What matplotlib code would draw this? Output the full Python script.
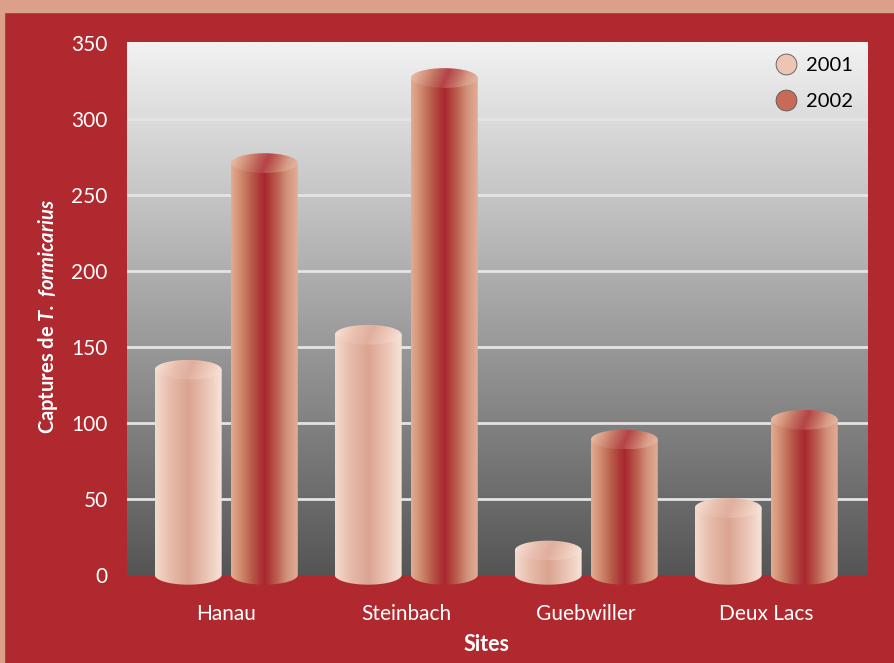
import numpy as np
import matplotlib.pyplot as plt
from matplotlib.colors import LinearSegmentedColormap
from matplotlib.patches import Polygon, Ellipse, Rectangle
from matplotlib.lines import Line2D

# Données
sites = ["Hanau", "Steinbach", "Guebwiller", "Deux Lacs"]
annees = ["2001", "2002"]
captures_2001 = [135, 158, 16, 44]
captures_2002 = [271, 327, 89, 102]
graduations = [0, 50, 100, 150, 200, 250, 300, 350]

plt.rcParams['font.family'] = ['Lato', 'DejaVu Sans']
plt.rcParams['mathtext.fontset'] = 'custom'
plt.rcParams['mathtext.bfit'] = 'Lato:italic:bold'

ROUGE = '#B0292E'
SAUMON = '#DCA089'

cmap_2001 = LinearSegmentedColormap.from_list(
    "c2001", ["#F4DACD", "#E6B9A8", "#DBA492", "#EAC2B2", "#F7E4DA"])
cmap_2002 = LinearSegmentedColormap.from_list(
    "c2002", ["#E4AC92", "#CC856A", "#B55446", "#A8262E", "#B9594B", "#D2917A", "#E2AE96"])

fig = plt.figure(figsize=(8.94, 6.63), dpi=100)
fig.patch.set_facecolor(ROUGE)
fig.patches.append(Rectangle((0, 1 - 12 / 663), 1, 12 / 663, transform=fig.transFigure,
                             color=SAUMON, zorder=0))
fig.patches.append(Rectangle((0, 0), 4 / 894, 1, transform=fig.transFigure,
                             color=SAUMON, zorder=0))

ax = fig.add_axes([127 / 894, 1 - 590 / 663, 741 / 894, 548 / 663])
ax.set_facecolor('none')
xmin, xmax = -0.55, 3.567
ymin, ymax = -10, 350.7

# fond dégradé gris
fond = np.linspace(0, 1, 256).reshape(-1, 1)
cmap_fond = LinearSegmentedColormap.from_list("fond", ["#F2F2F2", "#555555"])
ax.imshow(fond, cmap=cmap_fond, extent=[xmin, xmax, 0, ymax], aspect='auto',
          zorder=0, interpolation='bilinear')

for y in graduations[1:-1]:
    ax.axhline(y, color='#E4E4E4', lw=2, zorder=1)


def cylindre(ax, xc, w, v, cmap, ry=6.5):
    x0, x1 = xc - w / 2, xc + w / 2
    t = np.linspace(np.pi, 2 * np.pi, 80)
    bas = np.column_stack([xc + w / 2 * np.cos(t), ry * np.sin(t)])
    pts = np.vstack([[x0, v], bas, [x1, v]])
    corps = Polygon(pts, closed=True, facecolor='none', edgecolor='none')
    ax.add_patch(corps)
    grad = np.linspace(0, 1, 256).reshape(1, -1)
    im = ax.imshow(grad, cmap=cmap, extent=[x0, x1, -ry, v], aspect='auto',
                   zorder=3, interpolation='bilinear')
    im.set_clip_path(corps)

    # couvercle : dégradé un peu plus clair et incliné
    haut = Ellipse((xc, v), w, 2 * ry, facecolor='none', edgecolor='none')
    ax.add_patch(haut)
    u, vv = np.meshgrid(np.linspace(0, 1, 128), np.linspace(0, 1, 32))
    rgb = cmap(np.clip(u - 0.12 * (1 - vv) + 0.04, 0, 1))[..., :3]
    rgb = rgb * 0.85 + 0.15 * np.array([1.0, 0.92, 0.88])
    im2 = ax.imshow(rgb, extent=[x0, x1, v - ry, v + ry], aspect='auto',
                    zorder=4, interpolation='bilinear', origin='upper')
    im2.set_clip_path(haut)


largeur = 0.372
for i in range(len(sites)):
    cylindre(ax, i - 0.21, largeur, captures_2001[i], cmap_2001)
    cylindre(ax, i + 0.213, largeur, captures_2002[i], cmap_2002)

ax.set_xlim(xmin, xmax)
ax.set_ylim(ymin, ymax)

for s in ax.spines.values():
    s.set_visible(False)

ax.set_yticks(graduations)
ax.set_xticks(range(len(sites)))
ax.set_xticklabels(sites)
ax.tick_params(axis='y', length=0, pad=14, labelcolor='white', labelsize=15)
ax.tick_params(axis='x', length=0, pad=10, labelcolor='white', labelsize=15)

ax.set_ylabel(r"Captures de $\mathbfit{T.}$ $\mathbfit{formicarius}$", color='white',
              fontsize=14.5, fontweight='bold')
ax.yaxis.set_label_coords(-0.091, 0.5)
ax.set_xlabel("Sites", color='white', fontsize=15.5, fontweight='bold')
ax.xaxis.set_label_coords(0.485, -0.08)

poignees = [
    Line2D([], [], marker='o', ls='none', markersize=15, markerfacecolor='#EEC4B2',
           markeredgecolor='#555555', markeredgewidth=0.6),
    Line2D([], [], marker='o', ls='none', markersize=15, markerfacecolor='#C86A58',
           markeredgecolor='#555555', markeredgewidth=0.6),
]
ax.legend(poignees, annees, loc='upper right', frameon=False, fontsize=14.5,
          handletextpad=0.3, labelspacing=0.95, borderaxespad=0.35,
          handlelength=1.4)

fig.savefig("out.png", dpi=100, facecolor=fig.get_facecolor())
